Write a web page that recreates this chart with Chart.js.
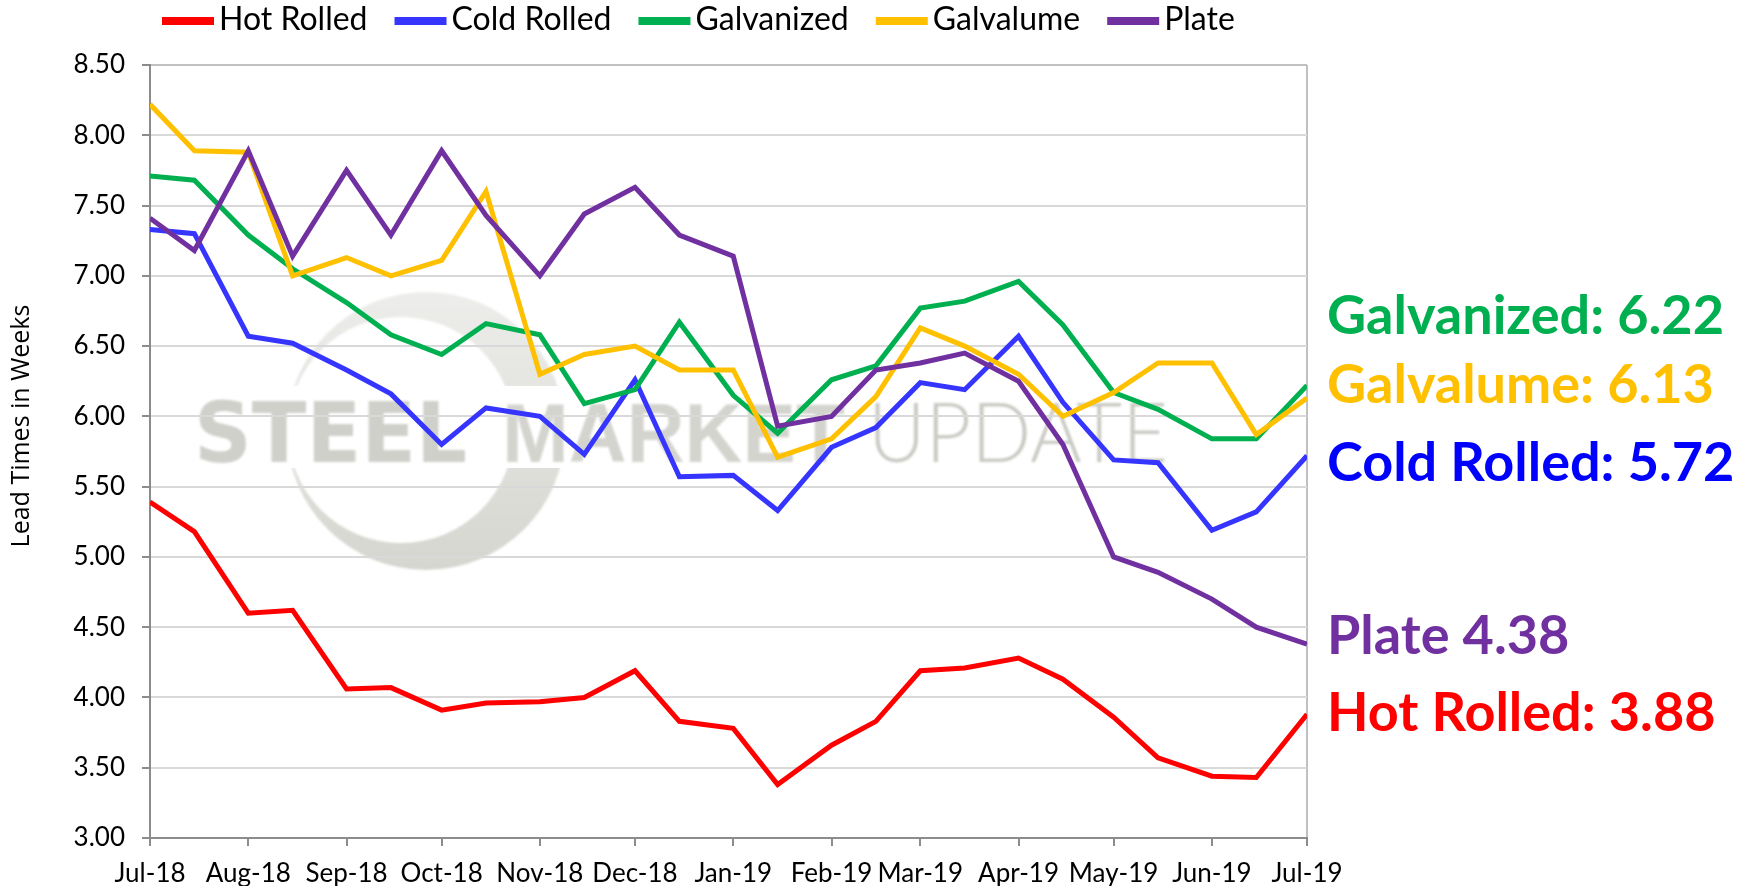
<!DOCTYPE html>
<html>
<head>
<meta charset="utf-8">
<title>Steel Lead Times</title>
<script src="https://cdn.jsdelivr.net/npm/chart.js@4/dist/chart.umd.min.js"></script>
<style>
  html, body { margin: 0; padding: 0; background: #fff; }
  #wrap { width: 1748px; height: 886px; }
</style>
</head>
<body>
<div id="wrap"><canvas id="lead-chart" width="1748" height="886"></canvas></div>
<script>
// survey dates (1st and mid-month)
var surveyDates = [
  '2018-07-01', '2018-07-15', '2018-08-01', '2018-08-15', '2018-09-01', '2018-09-15',
  '2018-10-01', '2018-10-15', '2018-11-01', '2018-11-15', '2018-12-01', '2018-12-15',
  '2019-01-01', '2019-01-15', '2019-02-01', '2019-02-15', '2019-03-01', '2019-03-15',
  '2019-04-01', '2019-04-15', '2019-05-01', '2019-05-15', '2019-06-01', '2019-06-15',
  '2019-07-01'
];

var monthStarts = [
  '2018-07-01', '2018-08-01', '2018-09-01', '2018-10-01', '2018-11-01', '2018-12-01',
  '2019-01-01', '2019-02-01', '2019-03-01', '2019-04-01', '2019-05-01', '2019-06-01',
  '2019-07-01'
];
var monthLabels = ['Jul-18', 'Aug-18', 'Sep-18', 'Oct-18', 'Nov-18', 'Dec-18',
  'Jan-19', 'Feb-19', 'Mar-19', 'Apr-19', 'May-19', 'Jun-19', 'Jul-19'];

var yTicks = [3.00, 3.50, 4.00, 4.50, 5.00, 5.50, 6.00, 6.50, 7.00, 7.50, 8.00, 8.50];

var hotRolled  = [5.39, 5.18, 4.60, 4.62, 4.06, 4.07, 3.91, 3.96, 3.97, 4.00, 4.19, 3.83, 3.78,
                  3.38, 3.66, 3.83, 4.19, 4.21, 4.28, 4.13, 3.86, 3.57, 3.44, 3.43, 3.88];
var coldRolled = [7.33, 7.30, 6.57, 6.52, 6.33, 6.16, 5.80, 6.06, 6.00, 5.73, 6.26, 5.57, 5.58,
                  5.33, 5.78, 5.92, 6.24, 6.19, 6.57, 6.10, 5.69, 5.67, 5.19, 5.32, 5.72];
var galvanized = [7.71, 7.68, 7.29, 7.05, 6.81, 6.58, 6.44, 6.66, 6.58, 6.09, 6.19, 6.67, 6.15,
                  5.88, 6.26, 6.36, 6.77, 6.82, 6.96, 6.65, 6.17, 6.05, 5.84, 5.84, 6.22];
var galvalume  = [8.22, 7.89, 7.88, 7.00, 7.13, 7.00, 7.11, 7.60, 6.30, 6.44, 6.50, 6.33, 6.33,
                  5.71, 5.84, 6.14, 6.63, 6.50, 6.30, 6.00, 6.17, 6.38, 6.38, 5.87, 6.13];
var plate      = [7.41, 7.18, 7.89, 7.14, 7.75, 7.29, 7.89, 7.43, 7.00, 7.44, 7.63, 7.29, 7.14,
                  5.93, 6.00, 6.33, 6.38, 6.45, 6.25, 5.80, 5.00, 4.89, 4.70, 4.50, 4.38];

var seriesNames  = ['Hot Rolled', 'Cold Rolled', 'Galvanized', 'Galvalume', 'Plate'];
var seriesValues = [hotRolled, coldRolled, galvanized, galvalume, plate];
var lineColors   = ['#FF0000', '#3535FF', '#00B050', '#FFC000', '#7030A0'];
var calloutColors = ['#FF0000', '#0000FF', '#00B050', '#FFC000', '#7030A0'];
var calloutSep   = [': ', ': ', ': ', ': ', ' '];

var FONT = 'Lato, Carlito, Calibri, sans-serif';

function dayOf(s) {
  return (Date.parse(s) - Date.parse(surveyDates[0])) / 86400000;
}
var tickDays = monthStarts.map(dayOf);
var lastDay = tickDays[tickDays.length - 1];

var datasets = [];
for (var i = 0; i < seriesNames.length; i++) {
  var pts = [];
  for (var j = 0; j < surveyDates.length; j++) {
    pts.push({ x: dayOf(surveyDates[j]), y: seriesValues[i][j] });
  }
  datasets.push({
    label: seriesNames[i],
    data: pts,
    borderColor: lineColors[i],
    backgroundColor: lineColors[i],
    borderWidth: 5,
    pointRadius: 0,
    tension: 0,
    fill: false,
    order: seriesNames.length - i   // later series sit on top
  });
}

// faint logo behind the plot
var watermark = {
  id: 'watermark',
  beforeDraw: function(chart) {
    var ctx = chart.ctx;
    ctx.save();
    ctx.filter = 'blur(1px)';
    // crescent, with a gap where the lettering runs through it
    ctx.save();
    ctx.beginPath();
    ctx.rect(0, 0, 700, 386);
    ctx.rect(0, 468, 700, 300);
    ctx.clip();
    var g = ctx.createLinearGradient(0, 290, 0, 572);
    g.addColorStop(0, '#ededeb');
    g.addColorStop(1, '#d6d6d0');
    ctx.fillStyle = g;
    ctx.beginPath();
    ctx.arc(426, 431, 139, 0, Math.PI * 2);
    ctx.arc(401, 430, 113, 0, Math.PI * 2);
    ctx.fill('evenodd');
    ctx.restore();

    ctx.textBaseline = 'alphabetic';
    ctx.textAlign = 'left';
    function word(text, font, color, x, w) {
      ctx.font = font;
      var m = ctx.measureText(text).width;
      ctx.save();
      ctx.translate(x, 462);
      ctx.scale(w / m, 1);
      ctx.fillStyle = color;
      ctx.fillText(text, 0, 0);
      ctx.restore();
    }
    word('STEEL', 'bold 83px "DejaVu Sans"', 'rgba(170,170,160,0.55)', 194, 273);
    word('MARKET', 'bold 83px "Liberation Sans"', 'rgba(170,170,160,0.5)', 502, 343);
    word('UPDATE', '300 83px Lato', 'rgba(160,160,150,0.55)', 868, 300);
    ctx.restore();
  }
};

// legend row, y-axis title and end-of-series callouts
var decorations = {
  id: 'decorations',
  afterDraw: function(chart) {
    var ctx = chart.ctx;
    ctx.save();

    // legend
    ctx.font = '32px ' + FONT;
    ctx.textBaseline = 'middle';
    ctx.textAlign = 'left';
    var x = 162;
    chart.data.datasets.forEach(function(ds) {
      ctx.fillStyle = ds.borderColor;
      ctx.fillRect(x, 17, 52, 8);
      x += 52 + 5;
      ctx.fillStyle = '#000';
      ctx.fillText(ds.label, x, 20);
      x += ctx.measureText(ds.label).width + 27;
    });

    // axis title
    ctx.save();
    ctx.translate(22, 426);
    ctx.rotate(-Math.PI / 2);
    ctx.textAlign = 'center';
    ctx.font = '25px "Open Sans", sans-serif';
    ctx.fillStyle = '#000';
    ctx.fillText('Lead Times in Weeks', 0, 0);
    ctx.restore();

    // callouts with the latest reading of each series
    var calloutY = [712, 462, 315, 384, 635];
    ctx.font = 'bold 54px ' + FONT;
    ctx.textAlign = 'left';
    ctx.textBaseline = 'alphabetic';
    for (var k = 0; k < seriesNames.length; k++) {
      var vals = seriesValues[k];
      var txt = seriesNames[k] + calloutSep[k] + vals[vals.length - 1].toFixed(2);
      ctx.fillStyle = calloutColors[k];
      ctx.fillText(txt, 1327, calloutY[k] + 19);
    }
    ctx.restore();
  }
};

var ctx = document.getElementById('lead-chart').getContext('2d');
var chart = new Chart(ctx, {
  type: 'line',
  data: { datasets: datasets },
  options: {
    responsive: false,
    animation: false,
    layout: { padding: { top: 65, right: 441, bottom: 0, left: 0 } },
    plugins: {
      legend: { display: false },
      tooltip: { enabled: false }
    },
    scales: {
      x: {
        type: 'linear',
        min: 0,
        max: lastDay,
        afterFit: function(scale) { scale.height = 48; },
        afterBuildTicks: function(scale) {
          scale.ticks = tickDays.map(function(d) { return { value: d }; });
        },
        ticks: {
          autoSkip: false,
          maxRotation: 0,
          padding: 12,
          color: '#000',
          font: { family: FONT, size: 26 },
          callback: function(v, idx) { return monthLabels[idx]; }
        },
        grid: {
          drawOnChartArea: true,
          lineWidth: 2,
          color: function(c) {
            return (c.tick && c.tick.value === lastDay) ? '#c0c0c0' : 'rgba(0,0,0,0)';
          },
          tickColor: '#8c8c8c',
          tickLength: 8
        },
        border: { color: '#8c8c8c', width: 2 }
      },
      y: {
        min: yTicks[0],
        max: yTicks[yTicks.length - 1],
        afterFit: function(scale) { scale.width = 150; },
        afterBuildTicks: function(scale) {
          scale.ticks = yTicks.map(function(v) { return { value: v }; });
        },
        ticks: {
          padding: 17,
          color: '#000',
          font: { family: FONT, size: 26 },
          callback: function(v) { return v.toFixed(2); }
        },
        grid: {
          lineWidth: 2,
          color: function(c) {
            return (c.tick && c.tick.value === 8.5) ? '#c0c0c0' : '#d9d9d9';
          },
          tickColor: '#8c8c8c',
          tickLength: 8
        },
        border: { color: '#8c8c8c', width: 2 }
      }
    }
  },
  plugins: [watermark, decorations]
});
</script>
</body>
</html>
